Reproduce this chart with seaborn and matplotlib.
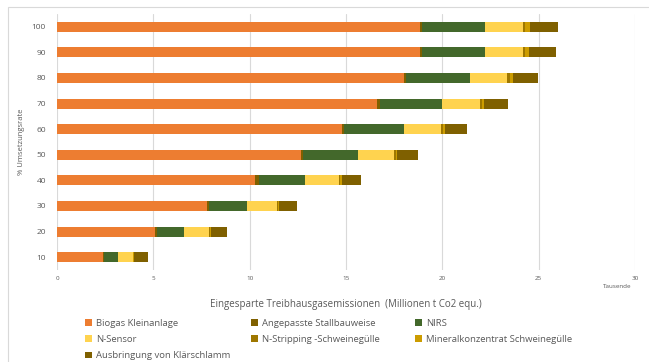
import seaborn as sns
import pandas as pd
import numpy as np
import matplotlib.pyplot as plt
from matplotlib.patches import Rectangle, Patch

# Umsetzungsrate in %, values in thousands (Tausende)
rates = [10, 20, 30, 40, 50, 60, 70, 80, 90, 100]
biogas = [2.39, 5.10, 7.76, 10.30, 12.66, 14.77, 16.60, 18.00, 18.83, 18.83]
stall = [0.03, 0.07, 0.11, 0.16, 0.12, 0.15, 0.15, 0.14, 0.14, 0.14]
nirs = [0.76, 1.43, 1.97, 2.40, 2.82, 3.08, 3.22, 3.28, 3.24, 3.24]
sensor = [0.78, 1.30, 1.59, 1.78, 1.88, 1.93, 1.97, 1.95, 1.98, 1.98]
stripping = [0.01, 0.04, 0.05, 0.07, 0.09, 0.11, 0.10, 0.13, 0.12, 0.11]
mineral = [0.01, 0.05, 0.05, 0.09, 0.10, 0.12, 0.14, 0.17, 0.17, 0.23]
klaer = [0.76, 0.81, 0.95, 1.00, 1.07, 1.12, 1.23, 1.28, 1.40, 1.47]

series_names = ['Biogas Kleinanlage', 'Angepasste Stallbauweise', 'NIRS', 'N-Sensor',
                'N-Stripping -Schweinegülle', 'Mineralkonzentrat Schweinegülle',
                'Ausbringung von Klärschlamm']
series_vals = [biogas, stall, nirs, sensor, stripping, mineral, klaer]
colors = ['#ED7D31', '#7F6000', '#43682B', '#FFD34F', '#9E7700', '#CC9C00', '#7F6000']

sns.set_theme(style='white')
plt.rcParams['font.family'] = ['Open Sans', 'DejaVu Sans']
grey = '#595959'

df = pd.DataFrame({'rate': [str(r) for r in rates]})
for name, vals in zip(series_names, series_vals):
    df[name] = vals
cum = df[series_names].cumsum(axis=1)
cum['rate'] = df['rate']
order = [str(r) for r in rates[::-1]]

fig = plt.figure(figsize=(6.49, 3.62), dpi=100)
ax = fig.add_axes([57/649, 1-270/362, (635-57)/649, (270-14)/362])

# draw cumulative bars from the outermost segment inwards
for name, c in reversed(list(zip(series_names, colors))):
    sns.barplot(data=cum, x=name, y='rate', order=order, color=c, width=0.39,
                orient='h', ax=ax, saturation=1, edgecolor='none')

ax.set_xlim(0, 30)
ax.set_xticks(range(0, 31, 5))
ax.grid(axis='x', color='#D9D9D9', linewidth=0.8)
ax.set_axisbelow(True)
for s in ax.spines.values():
    s.set_visible(False)
ax.tick_params(axis='x', labelsize=4.5, colors=grey, length=0, pad=4)
ax.tick_params(axis='y', labelsize=6, colors=grey, length=0, pad=8)
ax.set_xlabel('')
ax.set_ylabel('% Umsetzungsrate', fontsize=5.5, color=grey)
ax.yaxis.set_label_coords(-32/578, 0.5)

fig.text(617/649, 1-287/362, 'Tausende', fontsize=4.5, color=grey, ha='center', va='center')
fig.text(346/649, 1-304/362, 'Eingesparte Treibhausgasemissionen  (Millionen t Co2 equ.)',
         fontsize=7, color=grey, ha='center', va='center')

handles = [Patch(facecolor=c, edgecolor='none', label=n) for n, c in zip(series_names, colors)]
columns = [([0, 3, 6], 85), ([1, 4], 251), ([2, 5], 415)]
for idxs, x0 in columns:
    fig.legend(handles=[handles[i] for i in idxs], loc='upper left',
               bbox_to_anchor=(x0/649, 1-319/362), frameon=False, fontsize=6.8,
               handlelength=0.7, handleheight=0.7, handletextpad=0.5,
               labelspacing=0.75, borderpad=0, borderaxespad=0, labelcolor=grey)

fig.patches.append(Rectangle((8/649, -0.1), 1.2, 1.1 - 7/362, transform=fig.transFigure,
                             fill=False, edgecolor='#D9D9D9', linewidth=0.8))

fig.savefig('out.png', dpi=100)
